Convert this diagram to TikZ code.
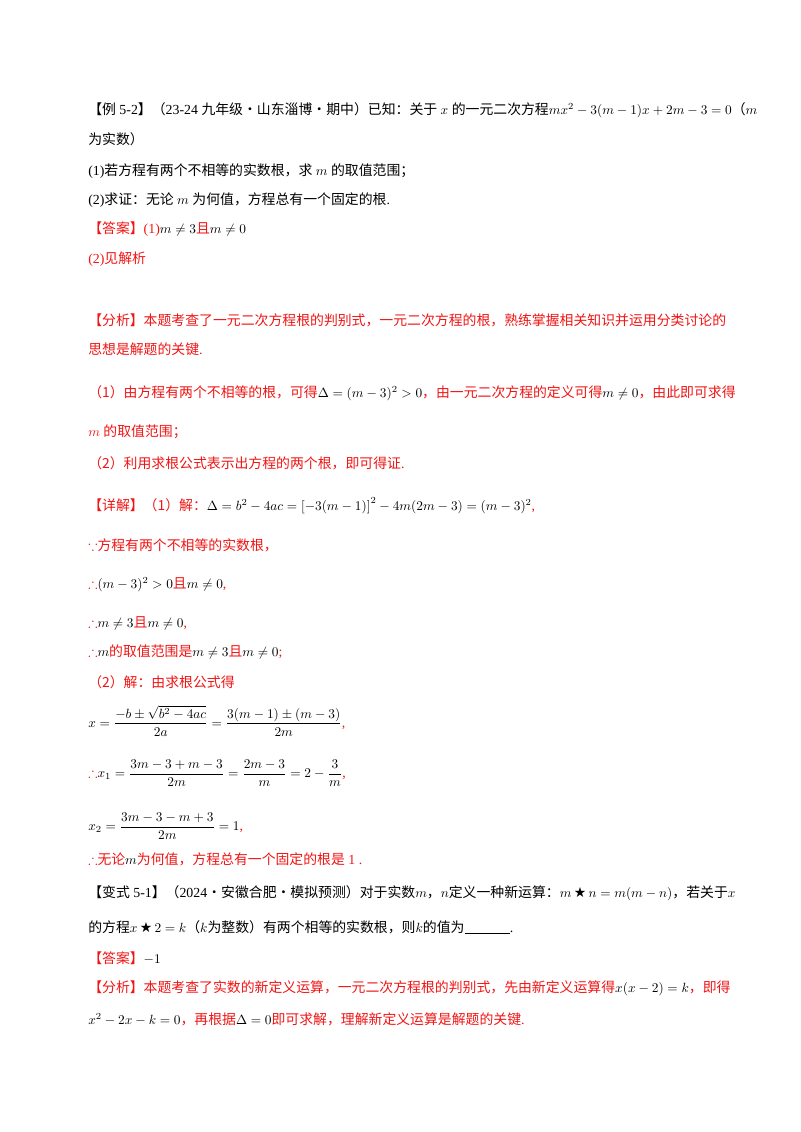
\documentclass[tikz,border=0pt]{standalone}
\usepackage{fontspec}
\usepackage{amsmath,amssymb}
\setmainfont{Liberation Serif}
\newfontfamily\cjk{Noto Sans CJK SC}
\newfontfamily\djv{DejaVu Sans}
\newcommand{\zh}[1]{{\cjk #1}}
\definecolor{ansred}{RGB}{240,20,20}
\newcommand{\R}[1]{\textcolor{ansred}{#1}}
\begin{document}
\begin{tikzpicture}[x=0.75pt,y=-0.75pt]
\tikzset{ln/.style={anchor=west,inner sep=0pt,font=\fontsize{10.4}{12}\selectfont}}
\useasboundingbox (0,0) rectangle (800,1132);
\node[ln] (l1) at (88,110) {\zh{【例} 5-2\zh{】（}23-24 \zh{九年级·山东淄博·期中）已知：关于} $x$ \zh{的一元二次方程}$mx^2-3(m-1)x+2m-3=0$\zh{（}$m$};
\node[ln] (l2) at (88,139) {\zh{为实数）}};
\node[ln] (l3) at (88,171) {(1)\zh{若方程有两个不相等的实数根，求} $m$ \zh{的取值范围；}};
\node[ln] (l4) at (88,200) {(2)\zh{求证：无论} $m$ \zh{为何值，方程总有一个固定的根}.};
\node[ln] (l5) at (88,229) {\R{\zh{【答案】}(1)}$m\neq3$\R{\zh{且}}$m\neq0$};
\node[ln] (l6) at (88,259) {\R{(2)\zh{见解析}}};
\node[ln] (l7) at (88,320) {\R{\zh{【分析】本题考查了一元二次方程根的判别式，一元二次方程的根，熟练掌握相关知识并运用分类讨论的}}};
\node[ln] (l8) at (88,349) {\R{\zh{思想是解题的关键}.}};
\node[ln] (l9) at (88,393) {\R{\zh{（1）由方程有两个不相等的根，可得}}$\Delta=(m-3)^2>0$\R{\zh{，由一元二次方程的定义可得}}$m\neq0$\R{\zh{，由此即可求得}}};
\node[ln] (l10) at (88,432) {\R{$m$ \zh{的取值范围；}}};
\node[ln] (l11) at (88,463) {\R{\zh{（2）利用求根公式表示出方程的两个根，即可得证}.}};
\node[ln] (l12) at (88,506) {\R{\zh{【详解】（1）解：}}$\Delta=b^2-4ac=\left[-3(m-1)\right]^2-4m(2m-3)=(m-3)^2$\R{,}};
\node[ln] (l13) at (88,545) {\R{$\because$\zh{方程有两个不相等的实数根，}}};
\node[ln] (l14) at (88,585) {\R{$\therefore$}$(m-3)^2>0$\R{\zh{且}}$m\neq0$\R{,}};
\node[ln] (l15) at (88,623) {\R{$\therefore$}$m\neq3$\R{\zh{且}}$m\neq0$\R{,}};
\node[ln] (l16) at (88,652) {\R{$\therefore$}$m$\R{\zh{的取值范围是}}$m\neq3$\R{\zh{且}}$m\neq0$\R{;}};
\node[ln] (l17) at (88,682) {\R{\zh{（2）解：由求根公式得}}};
\node[ln] (l18) at (88,721) {$x=\dfrac{-b\pm\sqrt{b^2-4ac}}{2a}=\dfrac{3(m-1)\pm(m-3)}{2m}$\R{,}};
\node[ln] (l19) at (88,773) {\R{$\therefore$}$x_1=\dfrac{3m-3+m-3}{2m}=\dfrac{2m-3}{m}=2-\dfrac{3}{m}$\R{,}};
\node[ln] (l20) at (88,826) {$x_2=\dfrac{3m-3-m+3}{2m}=1$\R{,}};
\node[ln] (l21) at (88,859) {\R{$\therefore$\zh{无论}}$m$\R{\zh{为何值，方程总有一个固定的根是} 1 .}};
\node[ln] (l22) at (88,893) {\zh{【变式} 5-1\zh{】（}2024\zh{·安徽合肥·模拟预测）对于实数}$m$\zh{，}$n$\zh{定义一种新运算：}$m$\,{\djv★}\,$n=m(m-n)$\zh{，若关于}$x$};
\node[ln] (l23) at (88,927) {\zh{的方程}$x$\,{\djv★}\,$2=k$\zh{（}$k$\zh{为整数）有两个相等的实数根，则}$k$\zh{的值为}\rule[-1pt]{34pt}{0.6pt}.};
\node[ln] (l24) at (88,958) {\R{\zh{【答案】}}$-1$};
\node[ln] (l25) at (88,988) {\R{\zh{【分析】本题考查了实数的新定义运算，一元二次方程根的判别式，先由新定义运算得}}$x(x-2)=k$\R{\zh{，即得}}};
\node[ln] (l26) at (88,1019) {$x^2-2x-k=0$\R{\zh{，再根据}}$\Delta=0$\R{\zh{即可求解，理解新定义运算是解题的关键}.}};
\end{tikzpicture}
\end{document}
